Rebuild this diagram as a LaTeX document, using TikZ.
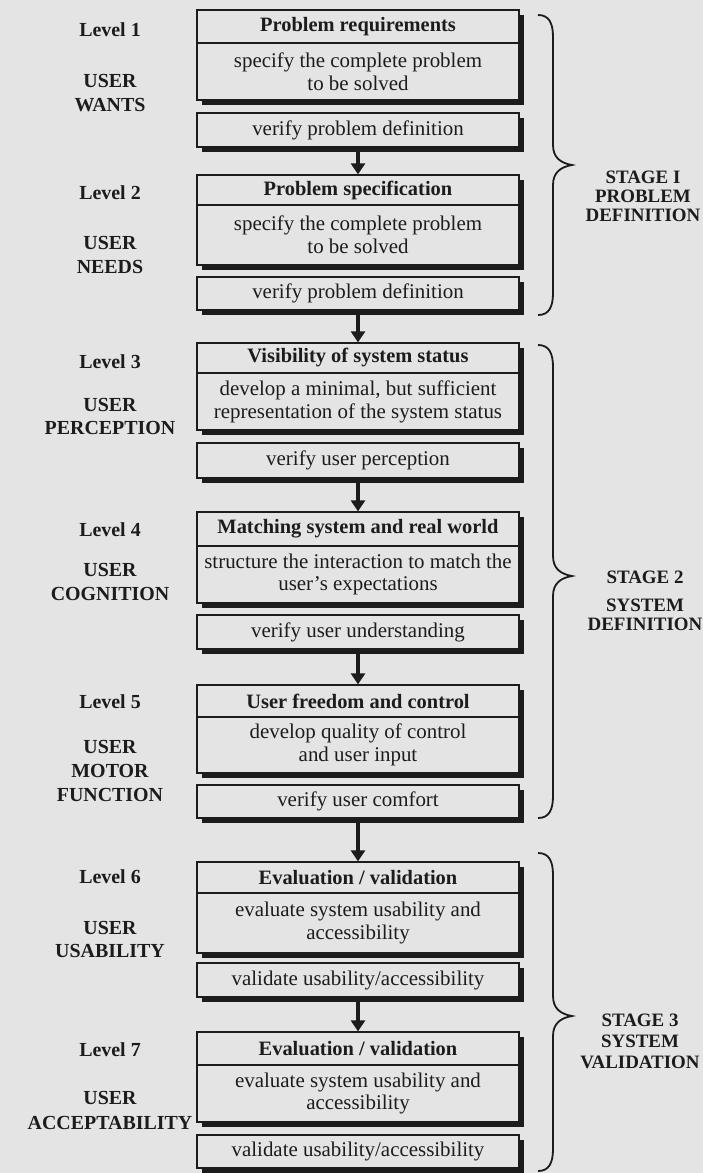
\documentclass[tikz,border=0pt]{standalone}
\usepackage{fontspec}
\setmainfont{Liberation Serif}
\usetikzlibrary{shadows,arrows.meta}
\definecolor{bg}{HTML}{E4E4E4}
\definecolor{ink}{HTML}{1C1C1C}
\newcommand\stagebrace[3]{%
  \draw[bracestyle] (538,#1) .. controls (549,#1) and (553,#1+8) .. (553,#1+22)
    -- (553,#2-20) .. controls (553,#2-8) and (560,#2-2) .. (572,#2)
    .. controls (560,#2+2) and (553,#2+8) .. (553,#2+20)
    -- (553,#3-22) .. controls (553,#3-8) and (549,#3) .. (538,#3);}
\begin{document}
\begin{tikzpicture}[x=1bp,y=-1bp,
  lbl/.style={font=\fontsize{20}{24}\selectfont\bfseries, align=center, text=ink, inner sep=0pt},
  stagelbl/.style={font=\fontsize{19}{19}\selectfont\bfseries, align=center, text=ink, inner sep=0pt},
  boxbase/.style={draw=ink, line width=1.3bp, fill=bg, minimum width=322bp, inner sep=0pt, align=center, text=ink,
    drop shadow={shadow xshift=5bp, shadow yshift=-5bp, fill=ink, opacity=1}},
  titlebox/.style={boxbase, font=\fontsize{20.5}{23}\selectfont\bfseries},
  bodybox/.style={boxbase, font=\fontsize{21}{23}\selectfont},
  flow/.style={draw=ink, line width=3.2bp, -{Triangle[length=11bp,width=14bp]}},
  bracestyle/.style={draw=ink, line width=1.8bp},
]
\fill[bg] (0,0) rectangle (703,1173);
\useasboundingbox (0,0) rectangle (703,1173);

% Level 1
\node[titlebox, minimum height=33bp] (t1) at (358,26.5) {Problem requirements};
\node[bodybox, minimum height=57bp] (b1) at (358,71.5) {specify the complete problem\\to be solved};
\node[bodybox, minimum height=34bp] (v1) at (358,130) {verify problem definition};
% Level 2
\node[titlebox, minimum height=30bp] (t2) at (358,190) {Problem specification};
\node[bodybox, minimum height=60bp] (b2) at (358,235) {specify the complete problem\\to be solved};
\node[bodybox, minimum height=33bp] (v2) at (358,293.5) {verify problem definition};
% Level 3
\node[titlebox, minimum height=30bp] (t3) at (358,358) {Visibility of system status};
\node[bodybox, minimum height=57bp] (b3) at (358,401.5) {develop a minimal, but sufficient\\representation of the system status};
\node[bodybox, minimum height=35bp] (v3) at (358,460.5) {verify user perception};
% Level 4
\node[titlebox, minimum height=34bp] (t4) at (358,529) {Matching system and real world};
\node[bodybox, minimum height=57bp] (b4) at (358,574.5) {structure the interaction to match the\\user's expectations};
\node[bodybox, minimum height=34bp] (v4) at (358,632) {verify user understanding};
% Level 5
\node[titlebox, minimum height=32bp] (t5) at (358,701) {User freedom and control};
\node[bodybox, minimum height=56bp] (b5) at (358,745) {develop quality of control\\and user input};
\node[bodybox, minimum height=33bp] (v5) at (358,801.5) {verify user comfort};
% Level 6
\node[titlebox, minimum height=31bp] (t6) at (358,877.5) {Evaluation / validation};
\node[bodybox, minimum height=60bp] (b6) at (358,923) {evaluate system usability and\\accessibility};
\node[bodybox, minimum height=34bp] (v6) at (358,980) {validate usability/accessibility};
% Level 7
\node[titlebox, minimum height=33bp] (t7) at (358,1048.5) {Evaluation / validation};
\node[bodybox, minimum height=57bp] (b7) at (358,1093.5) {evaluate system usability and\\accessibility};
\node[bodybox, minimum height=33bp] (v7) at (358,1151.5) {validate usability/accessibility};

% arrows
\draw[flow] (v1.south) -- (t2.north);
\draw[flow] (v2.south) -- (t3.north);
\draw[flow] (v3.south) -- (t4.north);
\draw[flow] (v4.south) -- (t5.north);
\draw[flow] (v5.south) -- (t6.north);
\draw[flow] (v6.south) -- (t7.north);

% left labels
\node[lbl] (l1) at (110,30) {Level 1};
\node[lbl] (u1) at (110,93) {USER\\WANTS};
\node[lbl] (l2) at (110,193) {Level 2};
\node[lbl] (u2) at (110,255) {USER\\NEEDS};
\node[lbl] (l3) at (110,362) {Level 3};
\node[lbl, font=\fontsize{20}{23}\selectfont\bfseries] (u3) at (110,416.5) {USER\\PERCEPTION};
\node[lbl] (l4) at (110,530) {Level 4};
\node[lbl] (u4) at (110,582) {USER\\COGNITION};
\node[lbl] (l5) at (110,702) {Level 5};
\node[lbl] (u5) at (110,771) {USER\\MOTOR\\FUNCTION};
\node[lbl] (l6) at (110,877) {Level 6};
\node[lbl, font=\fontsize{20}{23}\selectfont\bfseries] (u6) at (110,939.5) {USER\\USABILITY};
\node[lbl] (l7) at (110,1050) {Level 7};
\node[lbl, font=\fontsize{20}{25}\selectfont\bfseries] (u7) at (110,1110.5) {USER\\ACCEPTABILITY};

% braces
\stagebrace{15}{165}{315}
\stagebrace{345}{576}{818}
\stagebrace{853}{1016}{1171}

% stage labels
\node[stagelbl] (s1) at (643,196.5) {STAGE I\\PROBLEM\\DEFINITION};
\node[stagelbl] (s2) at (645,600.5) {STAGE 2\\[9bp]SYSTEM\\DEFINITION};
\node[stagelbl, font=\fontsize{19}{21}\selectfont\bfseries] (s3) at (640,1041) {STAGE 3\\SYSTEM\\VALIDATION};
\end{tikzpicture}
\end{document}
